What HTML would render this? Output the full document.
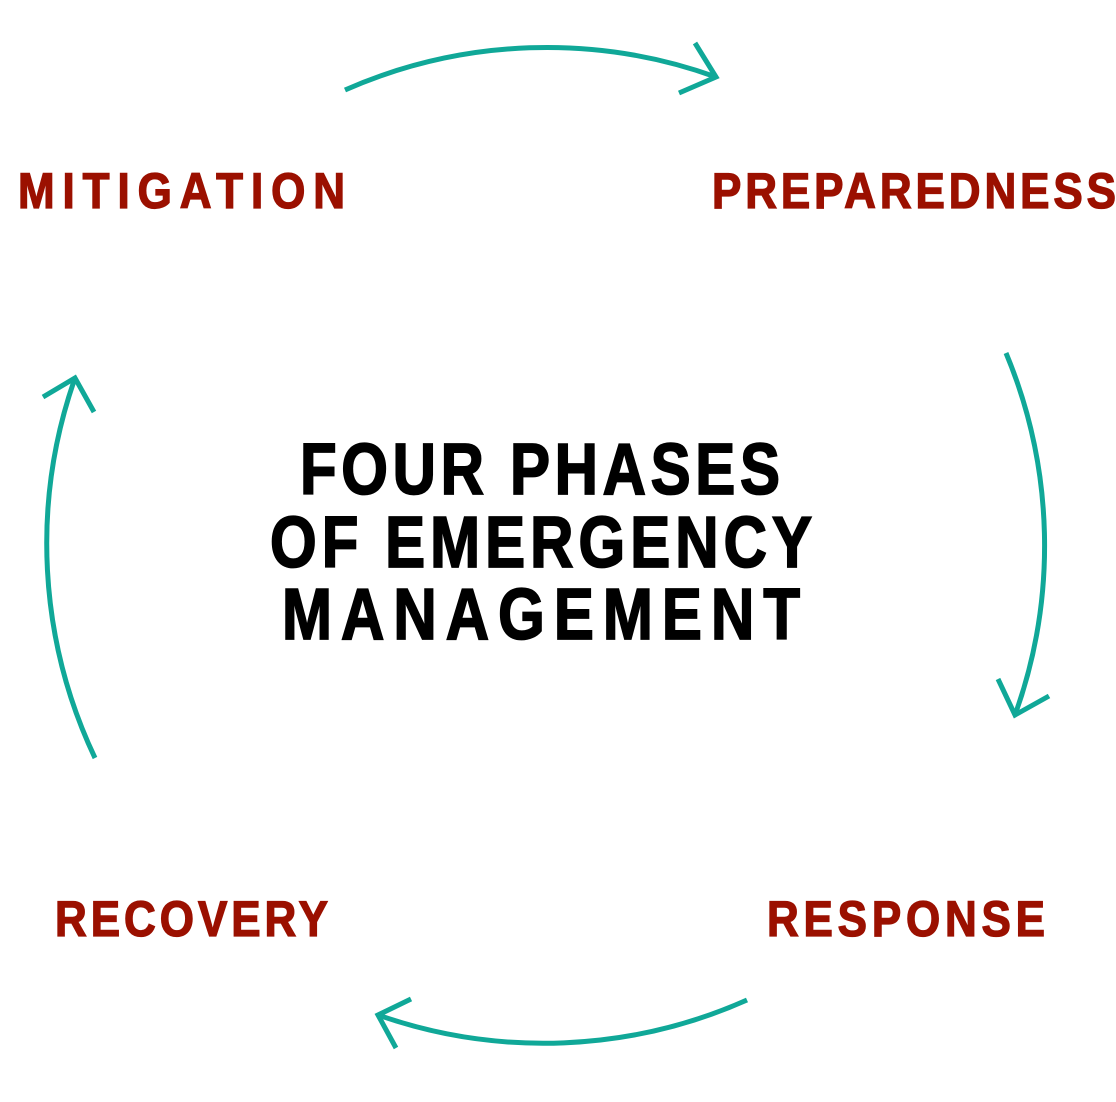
<!DOCTYPE html>
<html><head><meta charset="utf-8"><style>
html,body{margin:0;padding:0;background:#fff;}
svg{display:block;}
</style></head><body>
<svg width="1116" height="1102" viewBox="0 0 1116 1102" xmlns="http://www.w3.org/2000/svg">
<g fill="none" stroke="#10a898" stroke-width="5" stroke-linecap="butt">
<path d="M345 90 A500 500 0 0 1 716 77"/>
<path d="M695 43 L716 77 L679 93"/>
<path d="M1006 353 A500 500 0 0 1 1015 715"/>
<path d="M998 679 L1015 715 L1049 696"/>
<path d="M747 1000 A500 500 0 0 1 378 1015"/>
<path d="M411 999 L378 1015 L396 1048"/>
<path d="M95 758 A500 500 0 0 1 75 378"/>
<path d="M43 397 L75 378 L94 412"/>
</g>
<g font-family="'Liberation Sans', sans-serif" font-weight="bold" fill="#9b1000" font-size="44" stroke="#9b1000" stroke-width="1.2">
<text transform="translate(18,208) scale(1,1.14)" textLength="327" lengthAdjust="spacing">MITIGATION</text>
<text transform="translate(712,208) scale(1,1.14)" textLength="404" lengthAdjust="spacing">PREPAREDNESS</text>
<text transform="translate(55,936) scale(1,1.14)" textLength="273" lengthAdjust="spacing">RECOVERY</text>
<text transform="translate(767,936) scale(1,1.14)" textLength="278" lengthAdjust="spacing">RESPONSE</text>
</g>
<g font-family="'Liberation Sans', sans-serif" font-weight="bold" fill="#000" font-size="60" stroke="#000" stroke-width="1.5">
<text transform="translate(300,494) scale(1,1.2)" textLength="480" lengthAdjust="spacing">FOUR PHASES</text>
<text transform="translate(270,567) scale(1,1.2)" textLength="542" lengthAdjust="spacing">OF EMERGENCY</text>
<text transform="translate(282,639) scale(1,1.2)" textLength="518" lengthAdjust="spacing">MANAGEMENT</text>
</g>
</svg>
</body></html>
